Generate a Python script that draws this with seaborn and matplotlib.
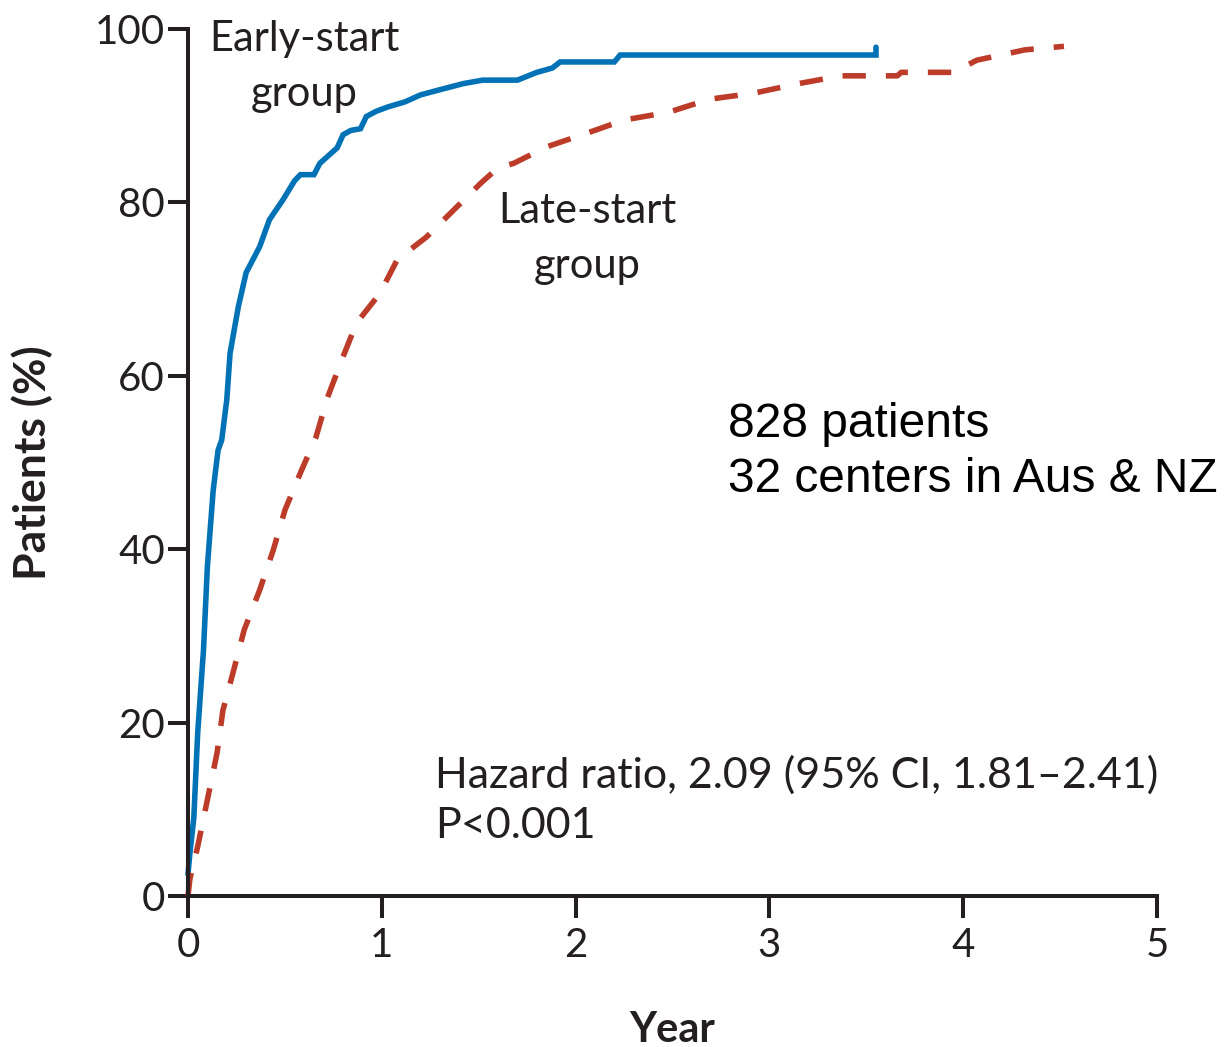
import matplotlib
matplotlib.use("Agg")
import matplotlib.pyplot as plt
import pandas as pd
import seaborn as sns

# Cumulative incidence of dialysis start (%), by year since randomisation
early_years = [0.0, 0.01, 0.03, 0.05, 0.08, 0.10, 0.13, 0.155, 0.174, 0.20, 0.217,
               0.26, 0.30, 0.37, 0.42, 0.49, 0.55, 0.58, 0.65, 0.68, 0.77, 0.80,
               0.84, 0.89, 0.92, 0.97, 1.03, 1.12, 1.20, 1.30, 1.42, 1.52, 1.70,
               1.80, 1.88, 1.92, 2.20, 2.23, 3.55, 3.55]
early_pct = [2.5, 5.0, 9.0, 18.8, 28.4, 38.0, 46.8, 51.4, 52.6, 57.2, 62.6,
             68.0, 71.9, 74.9, 78.0, 80.3, 82.5, 83.2, 83.2, 84.5, 86.3, 87.8,
             88.3, 88.5, 89.9, 90.5, 91.0, 91.6, 92.4, 93.0, 93.7, 94.1, 94.1,
             95.0, 95.5, 96.2, 96.2, 97.0, 97.0, 97.9]

late_years = [0.0, 0.01, 0.05, 0.10, 0.15, 0.18, 0.24, 0.29, 0.37, 0.44, 0.50,
              0.58, 0.66, 0.72, 0.80, 0.87, 0.99, 1.08, 1.23, 1.37, 1.51, 1.60,
              1.68, 1.85, 2.06, 2.25, 2.48, 2.69, 2.92, 3.15, 3.37, 3.66, 3.68,
              3.95, 4.07, 4.32, 4.52]
late_pct = [0.0, 2.0, 5.7, 11.1, 16.5, 21.4, 26.4, 30.7, 35.3, 39.9, 44.5,
            48.8, 52.9, 57.5, 62.2, 66.1, 69.5, 73.4, 76.0, 79.1, 82.2, 84.0,
            84.5, 86.4, 88.0, 89.5, 90.4, 91.9, 92.6, 93.7, 94.6, 94.6, 95.0,
            95.0, 96.4, 97.6, 98.0]

group_names = ["Early-start group", "Late-start group"]
x_ticks = [0, 1, 2, 3, 4, 5]
y_ticks = [0, 20, 40, 60, 80, 100]

BLUE = "#0072B5"
RED = "#BC3C29"
INK = "#231f20"

df = pd.concat([
    pd.DataFrame({"Year": early_years, "Pct": early_pct, "group": group_names[0]}),
    pd.DataFrame({"Year": late_years, "Pct": late_pct, "group": group_names[1]}),
], ignore_index=True)

sns.set_theme(style="ticks")
plt.rcParams["font.family"] = ["Lato", "DejaVu Sans"]
plt.rcParams["text.color"] = INK

fig = plt.figure(figsize=(12.26, 10.47), dpi=100)
ax = fig.add_axes([188 / 1226, 1 - 896 / 1047, 969 / 1226, 867 / 1047])

sns.lineplot(
    data=df, x="Year", y="Pct", hue="group", style="group",
    palette={group_names[0]: BLUE, group_names[1]: RED},
    dashes={group_names[0]: "", group_names[1]: (4.2, 3.6)},
    estimator=None, sort=False, legend=False, linewidth=4.0, ax=ax,
)
for ln in ax.get_lines():
    ln.set_clip_on(False)
    ln.set_dash_capstyle("butt")
    ln.set_solid_joinstyle("miter")

ax.set_xlim(0, 5)
ax.set_ylim(0, 100)
ax.set_xticks(x_ticks)
ax.set_yticks(y_ticks)
ax.set_xticklabels([str(v) for v in x_ticks])
ax.set_yticklabels([str(v) for v in y_ticks])

for side in ["top", "right"]:
    ax.spines[side].set_visible(False)
for side in ["left", "bottom"]:
    ax.spines[side].set_linewidth(2.9)
    ax.spines[side].set_color(INK)

ax.tick_params(axis="x", direction="out", length=16, width=2.9, color=INK,
               labelsize=29, labelcolor=INK, pad=6)
ax.tick_params(axis="y", direction="out", length=14.5, width=2.9, color=INK,
               labelsize=29, labelcolor=INK, pad=2)

ax.set_xlabel("Year", fontsize=30, fontweight="bold", color=INK, labelpad=34)
ax.set_ylabel("Patients (%)", fontsize=32, fontweight="bold", color=INK, labelpad=30)

ax.text(0.60, 101.0, "Early-start\ngroup", ha="center", va="top",
        fontsize=30, color=INK, linespacing=1.55, clip_on=False)
ax.text(2.06, 81.2, "Late-start\ngroup", ha="center", va="top",
        fontsize=30, color=INK, linespacing=1.55)
ax.text(1.275, 16.2, "Hazard ratio, 2.09 (95% CI, 1.81\u20132.41)\nP<0.001",
        ha="left", va="top", fontsize=31, color=INK, linespacing=1.4)
ax.text(2.786, 57.0, "828 patients\n32 centers in Aus & NZ", ha="left", va="top",
        fontsize=34.5, color="black", family=["Liberation Sans", "DejaVu Sans"],
        linespacing=1.3)

fig.savefig("out.png", dpi=100, facecolor="white")
